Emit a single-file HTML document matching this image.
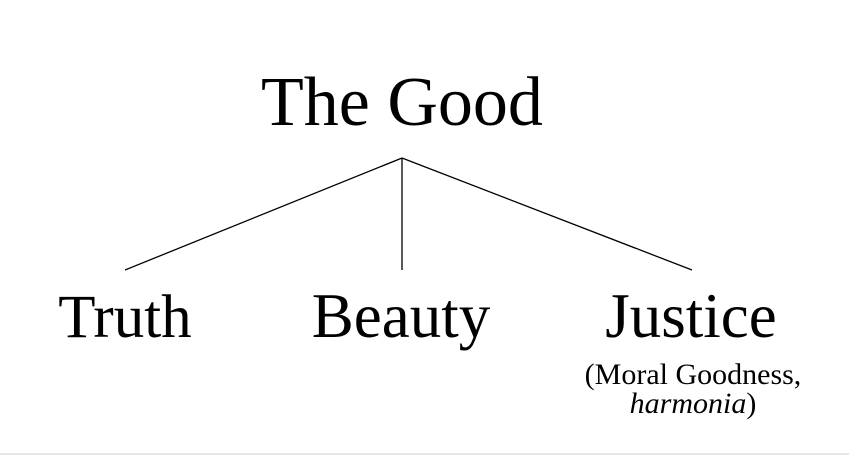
<!DOCTYPE html>
<html><head><meta charset="utf-8"><style>
html,body{margin:0;padding:0;background:#fff;}
svg{display:block;}
text{font-family:"Liberation Serif",serif;fill:#000;}
</style></head><body>
<svg width="849" height="455" viewBox="0 0 849 455">
<rect x="0" y="0" width="849" height="455" fill="#fff"/>
<rect x="0" y="453" width="849" height="2" fill="#e6e6e6"/>
<text x="402" y="125" font-size="70" text-anchor="middle">The Good</text>
<g stroke="#000" stroke-width="1.3">
<line x1="402" y1="158" x2="125" y2="270"/>
<line x1="402" y1="158" x2="402" y2="270"/>
<line x1="402" y1="158" x2="692" y2="270"/>
</g>
<text x="125" y="337" font-size="61" text-anchor="middle">Truth</text>
<text x="401" y="337" font-size="63" text-anchor="middle">Beauty</text>
<text x="691" y="337" font-size="63" text-anchor="middle">Justice</text>
<text x="693" y="384" font-size="30" text-anchor="middle">(Moral Goodness,</text>
<text x="693" y="413" font-size="30" text-anchor="middle"><tspan font-style="italic">harmonia</tspan>)</text>
</svg>
</body></html>
